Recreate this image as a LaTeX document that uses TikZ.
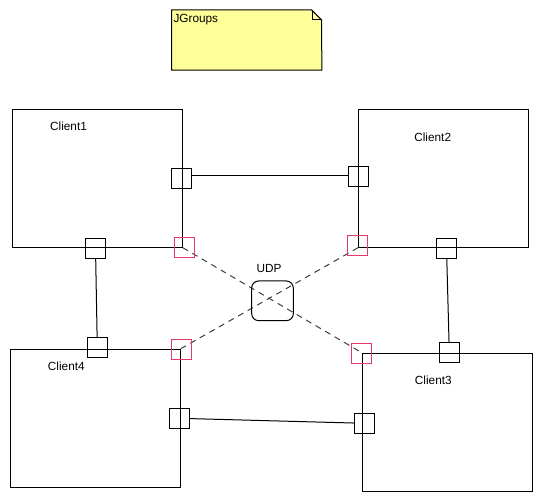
\documentclass[tikz,border=0pt]{standalone}
\usepackage{fontspec}
\setmainfont{Liberation Sans}
\definecolor{noteyellow}{RGB}{255,255,153}
\definecolor{portpink}{RGB}{232,56,104}
\definecolor{dashgray}{RGB}{60,60,60}
\begin{document}
\begin{tikzpicture}[x=1pt,y=-1pt,
  client/.style={draw, line width=1pt, inner sep=0, minimum width=170pt, minimum height=138pt},
  port/.style={draw, line width=1pt, minimum size=20pt, inner sep=0},
  cport/.style={draw=portpink, line width=0.9pt, minimum size=20pt, inner sep=0},
  lbl/.style={font=\fontsize{11.8}{14}\selectfont, inner sep=0},
  link/.style={line width=1pt},
  dlink/.style={line width=1pt, draw=dashgray, dash pattern=on 6pt off 5pt}]
\useasboundingbox (0,0) rectangle (543,501);
% note
\node[minimum width=150pt, minimum height=60pt, inner sep=0] (note) at (246.7,40) {};
\filldraw[fill=noteyellow, line width=1pt] (note.north west) -- ++(140,0) -- ++(10,10) -- (note.south east) -- (note.south west) -- cycle;
\draw[line width=0.8pt] ([xshift=-10pt]note.north east) -- ++(0,10) -- ++(10,0);
\node[lbl, anchor=west] (notetext) at (173.3,19.3) {JGroups};
% clients
\node[client] (c1) at (97.3,178.2) {};
\node[client] (c2) at (443.5,178.2) {};
\node[client] (c3) at (447.5,422.3) {};
\node[client] (c4) at (95.3,418.2) {};
\node[lbl] (c1l) at (68.5,126.7) {Client1};
\node[lbl] (c2l) at (432.7,137.3) {Client2};
\node[lbl] (c3l) at (433.3,380.7) {Client3};
\node[lbl] (c4l) at (66.3,366.7) {Client4};
% UDP
\draw[dlink] (c1.south east) -- (c3.north west);
\draw[dlink] (c2.south west) -- (c4.north east);
\node[draw, line width=1pt, rounded corners=7pt, minimum width=41.6pt, minimum height=39.7pt, inner sep=0] (udp) at (272.5,300.8) {};
\node[lbl] (udpl) at (269,268.3) {UDP};
% ports
\node[port] (p1r) at (181.5,178.3) {};
\node[port] (p1b) at (95.5,248) {};
\node[port] (p2l) at (358.5,176.3) {};
\node[port] (p2b) at (446.5,248) {};
\node[port] (p3t) at (449.3,352.3) {};
\node[port] (p3l) at (364.3,423.3) {};
\node[port] (p4t) at (97.3,347.3) {};
\node[port] (p4r) at (179.3,418.3) {};
\node[cport] (q1) at (184.5,247) {};
\node[cport] (q2) at (357.3,245) {};
\node[cport] (q3) at (361.5,353.5) {};
\node[cport] (q4) at (181.3,349.3) {};
% links
\draw[link] ([yshift=3pt]p1r.east) -- ([yshift=1pt]p2l.west);
\draw[link] (p1b) -- (p4t);
\draw[link] (p2b) -- (p3t);
\draw[link] (p4r) -- (p3l);
\end{tikzpicture}
\end{document}
